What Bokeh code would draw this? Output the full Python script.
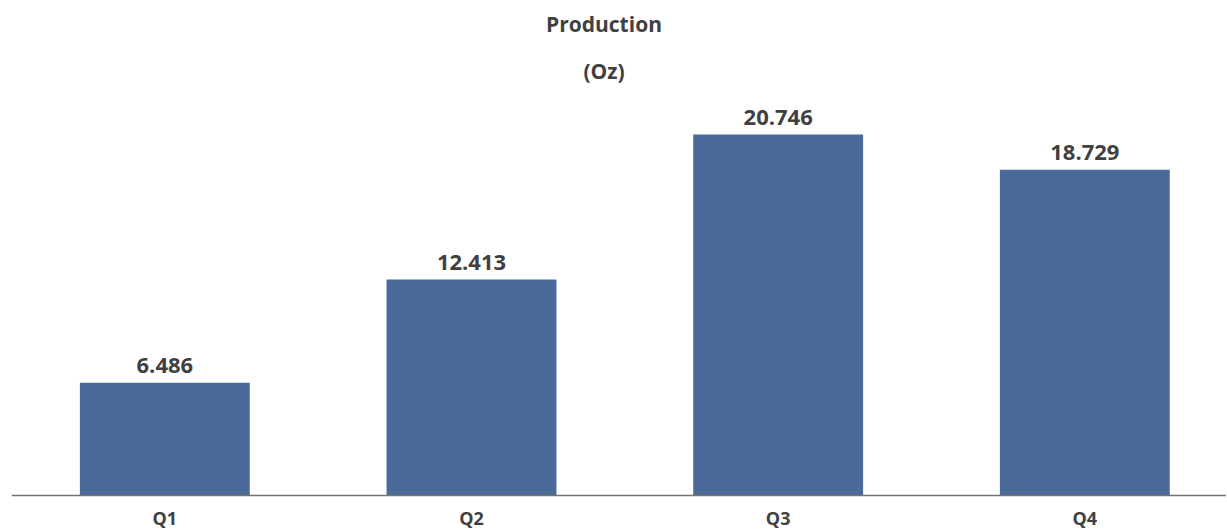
from bokeh.plotting import figure
from bokeh.models import Range1d, ColumnDataSource, Label, Span
from bokeh.embed import file_html
from bokeh.resources import INLINE
from bokeh.core.properties import value

categories = ["Q1", "Q2", "Q3", "Q4"]
production = [6.486, 12.413, 20.746, 18.729]
value_labels = ["6.486", "12.413", "20.746", "18.729"]
title_lines = ["Production", "(Oz)"]

xs = [i + 0.5 for i in range(len(categories))]
src = ColumnDataSource(dict(x=xs, top=production, lab=value_labels,
                            cat=categories, base=[0] * len(categories)))

FONT = "Open Sans"
GRAY = "#404040"

p = figure(width=1226, height=529, output_backend="svg", toolbar_location=None,
           x_range=Range1d(0, 3.962), y_range=Range1d(-1.954, 28.45),
           x_axis_location=None, y_axis_location=None,
           min_border_left=11, min_border_right=0, min_border_top=0, min_border_bottom=0)
p.outline_line_color = None
p.grid.visible = False
p.background_fill_color = "white"

p.vbar(x="x", top="top", width=0.554, bottom=0, source=src,
       fill_color="#4A6A9A", line_color=None)

# baseline (category axis line)
p.add_layout(Span(location=0, dimension="width", line_color="#737373", line_width=1.5))

# value labels
p.text(x="x", y="top", text="lab", source=src, text_align="center",
       text_baseline="bottom", y_offset=-10, text_font=value(FONT),
       text_font_style="bold", text_font_size="22px", text_color=GRAY)

# category labels
p.text(x="x", y="base", text="cat", source=src, text_align="center",
       text_baseline="middle", y_offset=22, text_font=value(FONT),
       text_font_style="bold", text_font_size="18px", text_color=GRAY)

p.add_layout(Label(x=1.932, y=27.1, text=title_lines[0], text_align="center",
                   text_baseline="middle", text_font=FONT, text_font_style="bold",
                   text_font_size="21px", text_color=GRAY))
p.add_layout(Label(x=1.932, y=24.4, text=title_lines[1], text_align="center",
                   text_baseline="middle", text_font=FONT, text_font_style="bold",
                   text_font_size="21px", text_color=GRAY))

open("out.html", "w").write(file_html(p, INLINE))
